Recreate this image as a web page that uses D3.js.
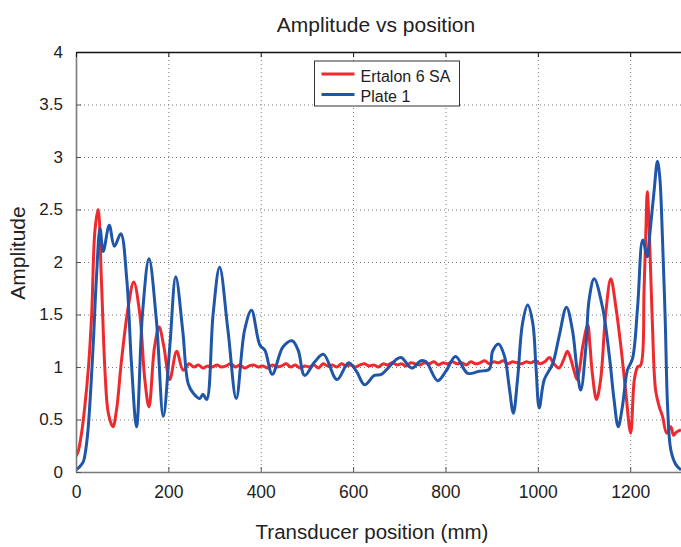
<!DOCTYPE html>
<html>
<head>
<meta charset="utf-8">
<script src="https://cdn.jsdelivr.net/npm/d3@7/dist/d3.min.js"></script>
<style>
  body { margin: 0; background: #fff; }
  text { font-family: Arial, "Liberation Sans", Helvetica, sans-serif; fill: #222; }
</style>
</head>
<body>
<div id="chart"></div>
<script>
// series
const ertalonPos = [0, 5, 12, 19, 27, 34, 41, 48, 55, 63, 70, 80, 88, 98, 113, 125, 138, 149, 158, 170, 180, 190, 203, 218, 232,
  245, 255, 265, 275, 285, 295, 305, 315, 325, 335, 345, 355, 365, 375, 385, 395, 405, 415, 425, 435, 445, 455, 465, 475, 485, 495,
  505, 515, 525, 535, 545, 555, 565, 575, 585, 595, 605, 615, 625, 635, 645, 655, 665, 675, 685, 695, 705, 715, 725, 735, 745, 755,
  765, 775, 785, 795, 805, 815, 825, 835, 845, 855, 865, 875, 885, 895, 905, 915, 925, 935, 945, 955, 965, 975, 985, 995, 1005, 1015,
  1025, 1035, 1046, 1055, 1064, 1071, 1078, 1085, 1091, 1097, 1108, 1113, 1118, 1127, 1136, 1147, 1158, 1169, 1180, 1190, 1201, 1209,
  1216, 1223, 1230, 1234, 1237, 1242, 1248, 1255, 1263, 1270, 1279, 1288, 1294, 1300, 1310];
const ertalonAmp = [0.15, 0.2, 0.37, 0.62, 1.0, 1.51, 2.3, 2.5, 1.83, 0.94, 0.56, 0.43, 0.6, 1.04, 1.57, 1.81, 1.51, 0.88, 0.62, 1.19, 1.38, 1.2, 0.88, 1.15, 0.97,
  1.03, 1.0, 1.02, 0.99, 1.01, 1.0, 1.02, 1.0, 1.01, 1.03, 1.0, 1.02, 0.99, 1.01, 1.02, 1.0, 1.01, 0.99, 1.02, 1.0, 1.01, 1.03, 1.0, 1.02, 0.99, 1.01,
  1.0, 1.02, 0.99, 1.03, 1.01, 1.02, 1.0, 1.03, 1.01, 1.02, 1.0, 1.02, 1.03, 1.01, 1.02, 1.0, 1.03, 1.02, 1.04, 1.02, 1.03, 1.01, 1.04, 1.03, 1.02, 1.04,
  1.03, 1.05, 1.02, 1.04, 1.03, 1.05, 1.03, 1.04, 1.02, 1.05, 1.03, 1.04, 1.06, 1.03, 1.05, 1.04, 1.06, 1.03, 1.05, 1.04, 1.03, 1.05, 1.04, 1.06, 1.03, 1.05,
  1.09, 1.03, 0.99, 1.06, 1.15, 1.08, 0.97, 0.88, 1.0, 1.19, 1.4, 1.2, 0.94, 0.69, 0.88, 1.51, 1.84, 1.57, 1.19, 0.78, 0.37, 0.88,
  1.0, 1.02, 1.73, 2.3, 2.67, 2.21, 1.42, 0.78, 0.62, 0.53, 0.37, 0.43, 0.35, 0.38, 0.4];

const platePos = [0, 8, 16, 20, 26, 37, 44, 52, 59, 72, 83, 97, 110, 120, 131, 144, 158, 174, 189, 203, 216, 231, 243, 254, 268, 275, 283,
  297, 311, 329, 347, 365, 380, 398, 409, 425, 448, 468, 481, 495, 517, 536, 565, 590, 607, 625, 646, 661, 693, 704, 727, 747, 758,
  783, 801, 822, 848, 873, 895, 902, 915, 928, 938, 947, 956, 967, 978, 989, 996, 1003, 1014, 1032, 1046, 1062, 1075, 1085, 1093,
  1104, 1111, 1122, 1140, 1155, 1165, 1174, 1183, 1194, 1205, 1216, 1227, 1237, 1241, 1252, 1259, 1264, 1270, 1276, 1281, 1288, 1299, 1310];
const plateAmp = [0.02, 0.05, 0.1, 0.18, 0.4, 1.19, 1.83, 2.32, 2.1, 2.35, 2.15, 2.27, 1.83, 1.04, 0.43, 1.51, 2.03, 1.45, 0.53, 1.19, 1.86, 1.35, 0.84, 0.75, 0.7, 0.74, 0.69,
  1.51, 1.95, 1.35, 0.7, 1.35, 1.54, 1.21, 1.16, 0.93, 1.19, 1.25, 1.16, 0.92, 1.05, 1.12, 0.88, 1.04, 0.96, 0.83, 0.92, 0.93, 1.07, 1.09, 0.99, 1.06, 1.05,
  0.87, 0.96, 1.1, 0.94, 0.96, 0.98, 1.15, 1.22, 1.1, 0.81, 0.56, 0.88, 1.42, 1.59, 1.42, 1.0, 0.61, 0.88, 1.03, 1.29, 1.57, 1.35, 0.97, 0.78,
  1.19, 1.64, 1.84, 1.57, 1.1, 0.69, 0.43, 0.62, 0.97, 1.08, 1.57, 2.21, 2.05, 2.2, 2.69, 2.96, 2.81, 2.21, 1.42, 0.62, 0.21, 0.07, 0.02];

const xTicks = [0, 200, 400, 600, 800, 1000, 1200];
const yTicks = [0, 0.5, 1, 1.5, 2, 2.5, 3, 3.5, 4];
const seriesNames = ['Ertalon 6 SA', 'Plate 1'];
const seriesColors = ['#ee2a2e', '#1f56a8'];

const W = 681, H = 547;
const m = { left: 76, top: 52, right: 0, bottom: 75 };

const svg = d3.select('#chart').append('svg').attr('width', W).attr('height', H);

const x = d3.scaleLinear().domain([0, 1310]).range([m.left, W - m.right]);
const y = d3.scaleLinear().domain([0, 4]).range([H - m.bottom, m.top]);

svg.append('defs').append('clipPath').attr('id', 'plot')
  .append('rect').attr('x', m.left).attr('y', m.top)
  .attr('width', x.range()[1] - m.left).attr('height', y(0) - m.top);

// grid
const grid = svg.append('g').attr('stroke', '#7a7a7a').attr('stroke-width', 1).attr('stroke-dasharray', '1,3');
grid.selectAll('.gx').data(xTicks.slice(1)).enter().append('line')
  .attr('x1', d => x(d) + 0.5).attr('x2', d => x(d) + 0.5).attr('y1', y(4)).attr('y2', y(0));
grid.selectAll('.gy').data(yTicks.slice(1, -1)).enter().append('line')
  .attr('y1', d => y(d) + 0.5).attr('y2', d => y(d) + 0.5).attr('x1', x(0)).attr('x2', W);

// lines
const line = d3.line().x(d => x(d[0])).y(d => y(d[1])).curve(d3.curveCatmullRom.alpha(0.5));
const series = [
  d3.zip(ertalonPos, ertalonAmp),
  d3.zip(platePos, plateAmp)
];
svg.append('g').attr('clip-path', 'url(#plot)')
  .selectAll('path').data(series).enter().append('path')
  .attr('d', line)
  .style('fill', 'none')
  .style('stroke', (d, i) => seriesColors[i])
  .style('stroke-width', '3px')
  .style('stroke-linejoin', 'round');

// axes (inward ticks)
const xAxis = d3.axisBottom(x).tickValues(xTicks).tickFormat(d3.format('d'))
  .tickSizeInner(-5).tickSizeOuter(0).tickPadding(14);
const gx = svg.append('g').attr('transform', `translate(0,${y(0)})`).call(xAxis);
gx.select('.domain').attr('stroke', '#7a7a7a').attr('stroke-width', 1.6);
gx.selectAll('.tick line').attr('stroke', '#555');
gx.selectAll('.tick text').attr('font-size', '17.5px').attr('fill', '#222');

const yAxis = d3.axisLeft(y).tickValues(yTicks).tickFormat(d3.format('')).tickSizeInner(-5).tickSizeOuter(0).tickPadding(13);
const gy = svg.append('g').attr('transform', `translate(${x(0)},0)`).call(yAxis);
gy.select('.domain').attr('stroke', '#7a7a7a').attr('stroke-width', 1.6);
gy.selectAll('.tick line').attr('stroke', '#555');
gy.selectAll('.tick text').attr('font-size', '17px').attr('fill', '#222');

// top edge with ticks
const xTop = d3.axisTop(x).tickValues(xTicks).tickSizeInner(-5).tickSizeOuter(0).tickFormat('');
const gt = svg.append('g').attr('transform', `translate(0,${y(4)})`).call(xTop);
gt.select('.domain').attr('stroke', '#111').attr('stroke-width', 1.3);
gt.selectAll('.tick line').attr('stroke', '#111');

// titles
svg.append('text').attr('x', 376).attr('y', 32).attr('text-anchor', 'middle')
  .attr('font-size', '21px').text('Amplitude vs position');
svg.append('text').attr('x', 372).attr('y', 539).attr('text-anchor', 'middle')
  .attr('font-size', '20.5px').text('Transducer position (mm)');
svg.append('text').attr('transform', 'translate(25,253) rotate(-90)').attr('text-anchor', 'middle')
  .attr('font-size', '21px').text('Amplitude');

// legend
const lg = svg.append('g').attr('transform', 'translate(314.5,61)');
lg.append('rect').attr('width', 145).attr('height', 45)
  .style('fill', '#fff').style('stroke', '#333').style('stroke-width', 1);
const item = lg.selectAll('.item').data(seriesNames).enter().append('g')
  .attr('transform', (d, i) => `translate(0,${13 + i * 20.5})`);
item.append('line').attr('x1', 7).attr('x2', 40)
  .style('stroke', (d, i) => seriesColors[i]).style('stroke-width', '3px');
item.append('text').attr('x', 46).attr('y', 7.5).attr('font-size', '16px').text(d => d);
</script>
</body>
</html>
